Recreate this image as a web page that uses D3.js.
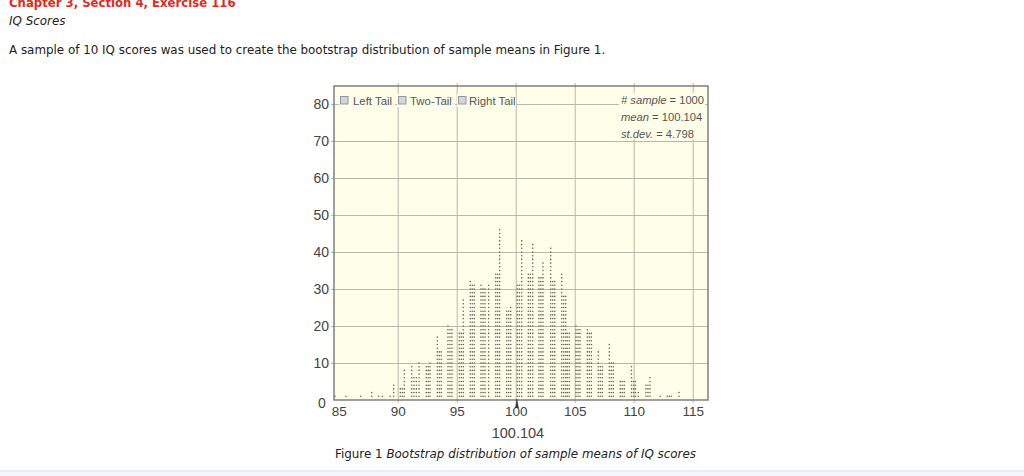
<!DOCTYPE html>
<html><head><meta charset="utf-8">
<script src="https://cdn.jsdelivr.net/npm/d3@7"></script>
<style>
html,body{margin:0;padding:0;background:#fff;overflow:hidden}
svg{display:block}
.pg{font-family:"DejaVu Sans",sans-serif;fill:#222}
.ax{font-family:"Liberation Sans",sans-serif;fill:#444}
</style></head><body>
<svg id="c" width="1024" height="476"></svg>
<script>
const xTicks = [85, 90, 95, 100, 105, 110, 115];
const yTicks = [10, 20, 30, 40, 50, 60, 70, 80];
const dotValues = [84.69,85.62,86.86,87.80,88.39,88.69,89.35,89.66,90.22,90.39,90.56,91.19,91.38,91.58,91.81,92.42,92.59,92.74,93.36,93.53,93.69,94.26,94.43,94.60,95.22,95.39,95.56,96.15,96.32,96.49,97.06,97.23,97.40,97.71,98.31,98.47,98.64,99.24,99.41,99.58,100.14,100.31,100.51,101.07,101.24,101.44,101.97,102.14,102.31,102.97,103.14,103.31,103.90,104.07,104.24,104.37,104.54,105.11,105.28,105.45,106.07,106.24,106.41,107.00,107.17,107.34,107.93,108.10,108.27,108.86,109.03,109.20,109.81,109.98,110.15,110.39,111.04,111.21,111.38,112.25,112.85,113.02,113.19,113.84];
const dotCounts = [1,1,1,2,1,1,1,4,3,3,8,9,6,6,10,9,9,10,17,13,13,20,19,19,18,18,27,32,31,31,31,30,30,31,34,34,46,24,24,25,31,31,43,34,34,42,33,33,37,41,32,32,34,28,28,18,18,20,19,19,19,18,18,13,9,9,15,10,10,5,5,5,9,5,5,2,4,4,6,1,1,1,1,2];
const tailLabels = ["Left Tail", "Two-Tail", "Right Tail"];
const statNames = ["# sample", "mean", "st.dev."];
const statValues = ["1000", "100.104", "4.798"];
const meanValue = 100.104;

const svg = d3.select("#c");
const L = 334, R = 708, T = 86, B = 400;
const x = d3.scaleLinear().domain([85, 115]).range([338.7, 692.7]);
const y = d3.scaleLinear().domain([0, 80]).range([400, 104]);

const defs = svg.append("defs");
defs.append("filter").attr("id","soft").attr("x","-5%").attr("y","-5%").attr("width","110%").attr("height","110%")
  .append("feGaussianBlur").attr("stdDeviation",0.3);

// page text
svg.append("text").attr("class","pg").attr("x",9).attr("y",7)
  .attr("font-size",11.7).attr("font-weight","bold").style("fill","#e3291c")
  .text("Chapter 3, Section 4, Exercise 116");
svg.append("text").attr("class","pg").attr("x",9).attr("y",25)
  .attr("font-size",11.9).attr("font-style","italic").text("IQ Scores");
svg.append("text").attr("class","pg").attr("x",9).attr("y",54)
  .attr("font-size",11.9).text("A sample of 10 IQ scores was used to create the bootstrap distribution of sample means in Figure 1.");

// plot background
svg.append("rect").attr("x",L).attr("y",T).attr("width",R-L).attr("height",B-T).attr("fill","#fffee8");

// grid and axes through d3 axes
const gy = svg.append("g").attr("transform",`translate(${L},0)`)
  .call(d3.axisLeft(y).tickValues(yTicks).tickSize(-(R-L)).tickPadding(5).tickFormat(d3.format("d")));
gy.select(".domain").remove();
gy.selectAll("line").attr("stroke","#b8b8ad").attr("stroke-width",1).attr("x1",R-L).attr("x2",-3);
gy.selectAll("text").attr("class","ax").attr("font-size",14).attr("font-family","Liberation Sans").attr("x",-5);

const gx = svg.append("g").attr("transform",`translate(0,${B})`)
  .call(d3.axisBottom(x).tickValues(xTicks).tickSize(-(B-T)).tickPadding(6).tickFormat(d3.format("d")));
gx.select(".domain").remove();
gx.selectAll("line").attr("stroke","#b8b8ad").attr("stroke-width",1).attr("y2",3)
  .attr("y1",-(B-T)-3);
gx.selectAll(".tick").filter(d=>d===85).select("line").remove();
gx.selectAll("text").attr("class","ax").attr("font-size",13.5).attr("font-family","Liberation Sans").attr("y",6);

svg.append("text").attr("class","ax").attr("x",322).attr("y",408).attr("text-anchor","middle").attr("font-size",14).text("0");

// legend strip backgrounds (hide grid behind labels)
const tailX = [339, 397, 457];
const tailW = [57, 59, 60];
svg.append("g").selectAll("rect").data(tailLabels).join("rect")
  .attr("x",(d,i)=>tailX[i]).attr("y",94).attr("width",(d,i)=>tailW[i]-1).attr("height",13).attr("fill","#fffee8");
svg.append("rect").attr("x",619).attr("y",93).attr("width",86).attr("height",46).attr("fill","#fffee8");

svg.append("rect").attr("x",L).attr("y",T).attr("width",R-L).attr("height",B-T)
  .attr("fill","none").attr("stroke","#777").attr("stroke-width",1.4);

// dots
const dots = dotValues.flatMap((v,i)=>d3.range(1,dotCounts[i]+1).map(k=>({v,k})));
svg.append("g").attr("filter","url(#soft)").selectAll("circle").data(dots).join("circle")
  .attr("cx",d=>x(d.v)).attr("cy",d=>y(d.k)).attr("r",0.8).attr("fill","#66665c");

// mean marker
svg.append("path")
  .attr("d",d3.line()([[x(meanValue)-1.5,408],[x(meanValue),399],[x(meanValue)+1.5,408]]))
  .attr("fill","#333").attr("stroke","#333").attr("stroke-width",.5);

// tail checkboxes + labels
const boxes = svg.append("g");
boxes.selectAll("rect").data(tailLabels).join("rect")
  .attr("x",(d,i)=>tailX[i]+1.5).attr("y",96.5).attr("width",7.5).attr("height",7.5)
  .attr("fill","#cfd6dc").attr("stroke","#8f979c").attr("stroke-width",1);
boxes.selectAll("text").data(tailLabels).join("text").attr("class","ax")
  .attr("x",(d,i)=>[353,410,469][i]).attr("y",104.5).attr("font-size",11.4).style("fill","#555").text(d=>d);

// stats block
statNames.forEach((n,i)=>{
  const t = svg.append("text").attr("class","ax").attr("x",621).attr("y",104+i*17)
    .attr("font-size",11.2).style("fill","#555");
  t.append("tspan").attr("font-style","italic").text(n);
  t.append("tspan").text(" = "+statValues[i]);
});

// mean value and caption
svg.append("text").attr("class","ax").attr("x",x(meanValue)+1).attr("y",438).attr("text-anchor","middle")
  .attr("font-size",14.5).text(d3.format(".3f")(meanValue));
const cap = svg.append("text").attr("class","pg").attr("x",335).attr("y",458).attr("font-size",11.9);
cap.append("tspan").text("Figure 1 ");
cap.append("tspan").attr("font-style","italic").text("Bootstrap distribution of sample means of IQ scores");

// page bottom rule
svg.append("rect").attr("x",0).attr("y",471).attr("width",1024).attr("height",5).attr("fill","#f4f7fc");
svg.append("line").attr("x1",0).attr("x2",1024).attr("y1",471).attr("y2",471).attr("stroke","#d5dff0");
</script>
</body></html>
